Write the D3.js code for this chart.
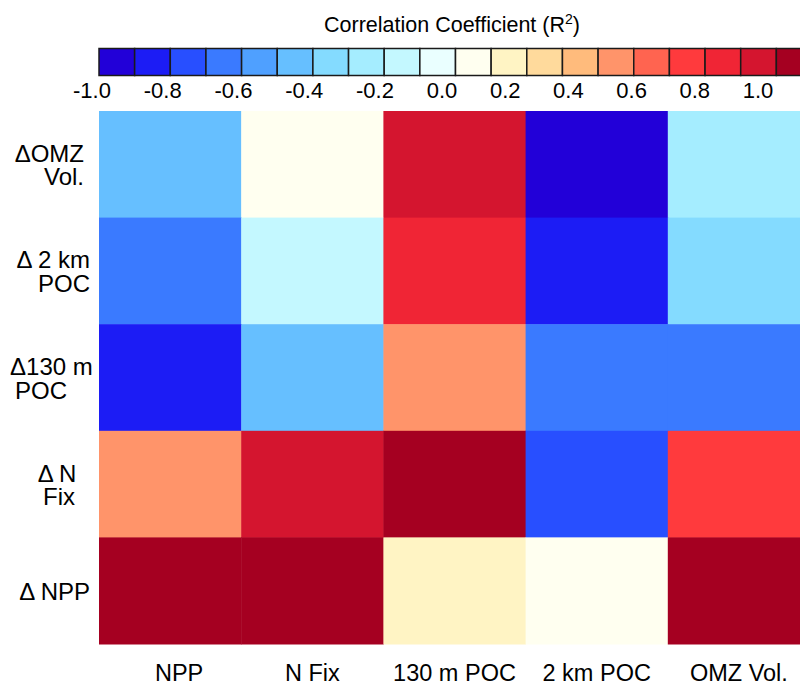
<!DOCTYPE html>
<html>
<head>
<meta charset="utf-8">
<script src="https://cdn.jsdelivr.net/npm/d3@7"></script>
<style>
  body { margin: 0; background: #fff; }
  text { font-family: "Liberation Sans", Arial, sans-serif; fill: #000; }
</style>
</head>
<body>
<div id="plot"></div>
<script>
// Data
const columns = ["NPP", "N Fix", "130 m POC", "2 km POC", "OMZ Vol."];
const rows = ["ΔOMZ Vol.", "Δ 2 km POC", "Δ130 m POC", "Δ N Fix", "Δ NPP"];
const rowLines = [["ΔOMZ", "Vol."], ["Δ 2 km", "POC"], ["Δ130 m", "POC"], ["Δ N", "Fix"], ["Δ NPP"]];
const omzVol = [-0.45, 0.05, 0.85, -0.95, -0.25];
const poc2km = [-0.65, -0.15, 0.75, -0.85, -0.35];
const poc130m = [-0.85, -0.45, 0.45, -0.65, -0.65];
const nFix = [0.45, 0.85, 0.95, -0.75, 0.65];
const npp = [0.95, 0.95, 0.15, 0.05, 0.95];
const rowValues = [omzVol, poc2km, poc130m, nFix, npp];
const tickValues = [-1.0, -0.8, -0.6, -0.4, -0.2, 0.0, 0.2, 0.4, 0.6, 0.8, 1.0];
const palette = ["#2200d8", "#1c1cf5", "#284fff", "#3a7aff", "#4fa0ff", "#66bfff", "#84dbff",
  "#a5edff", "#c4f8ff", "#eaffff", "#fffff0", "#fff4c4", "#ffda9c", "#ffbb7c", "#ff946a",
  "#ff6450", "#ff3a3d", "#f02535", "#d4152f", "#a50021"];

// Layout
const w = 800, h = 683;
const plotLeft = 99, plotRight = 810, plotTop = 111, plotBottom = 644;
const rowLabelLayout = [
  { anchor: "end", x: 84, x2: 84 },
  { anchor: "end", x: 90, x2: 90 },
  { anchor: "start", x: 10, x2: 15 },
  { anchor: "middle", x: 57, x2: 59 },
  { anchor: "end", x: 90, x2: 90 }
];
const colLabelShift = [9, 0, 0, 0, 0];

const svg = d3.select("#plot").append("svg")
  .attr("width", w)
  .attr("height", h);

// Scales
const x = d3.scaleBand().domain(columns).range([plotLeft, plotRight]);
const y = d3.scaleBand().domain(rows).range([plotTop, plotBottom]);
const color = d3.scaleQuantize().domain([-1, 1]).range(palette);
const cbX = d3.scaleLinear().domain([-1, 1]).range([99, 812]);
// tick labels in the source are not evenly spaced
const tickX = d3.scaleLinear().domain([-1, -0.2, 0, 1]).range([92, 375, 442, 758]);

// Cells
const cells = [];
rows.forEach((r, i) => columns.forEach((c, j) => cells.push({ row: r, col: c, v: rowValues[i][j] })));

svg.append("g").selectAll("rect")
  .data(cells)
  .join("rect")
  .attr("x", d => x(d.col))
  .attr("y", d => y(d.row))
  .attr("width", x.bandwidth() + 0.5)
  .attr("height", y.bandwidth() + 0.5)
  .attr("fill", d => color(d.v));

// Colour bar
const bins = palette.map((c, i) => -1 + i * 0.1);
svg.append("g").selectAll("rect")
  .data(bins)
  .join("rect")
  .attr("x", d => cbX(d))
  .attr("y", 48.5)
  .attr("width", cbX(0.1) - cbX(0))
  .attr("height", 27)
  .attr("fill", d => color(d + 0.05))
  .attr("stroke", "#1a1a1a")
  .attr("stroke-width", 1.5);

svg.append("g").selectAll("text")
  .data(tickValues)
  .join("text")
  .attr("x", d => tickX(d))
  .attr("y", 98)
  .attr("text-anchor", "middle")
  .attr("font-size", 22)
  .text(d => d3.format(".1f")(d).replace("−", "-"));

// Title
const title = svg.append("text")
  .attr("x", 452)
  .attr("y", 32)
  .attr("text-anchor", "middle")
  .attr("font-size", 21.5);
title.append("tspan").text("Correlation Coefficient (R");
title.append("tspan").attr("font-size", 14).attr("dy", -8).text("2");
title.append("tspan").attr("dy", 8).text(")");

// Row labels
const rowG = svg.append("g").selectAll("text")
  .data(rowLines)
  .join("text")
  .attr("font-size", 24)
  .attr("text-anchor", (d, i) => rowLabelLayout[i].anchor)
  .attr("y", (d, i) => y(rows[i]) + y.bandwidth() / 2 + 9 - (d.length - 1) * 11.5);

rowG.each(function(lines, i) {
  d3.select(this).selectAll("tspan")
    .data(lines)
    .join("tspan")
    .attr("x", (d, k) => k === 0 ? rowLabelLayout[i].x : rowLabelLayout[i].x2)
    .attr("dy", (d, k) => k === 0 ? 0 : 23.5)
    .text(d => d);
});

// Column labels
svg.append("g").selectAll("text")
  .data(columns)
  .join("text")
  .attr("x", (d, i) => x(d) + x.bandwidth() / 2 + colLabelShift[i])
  .attr("y", 681)
  .attr("text-anchor", "middle")
  .attr("font-size", 23.5)
  .text(d => d);
</script>
</body>
</html>
